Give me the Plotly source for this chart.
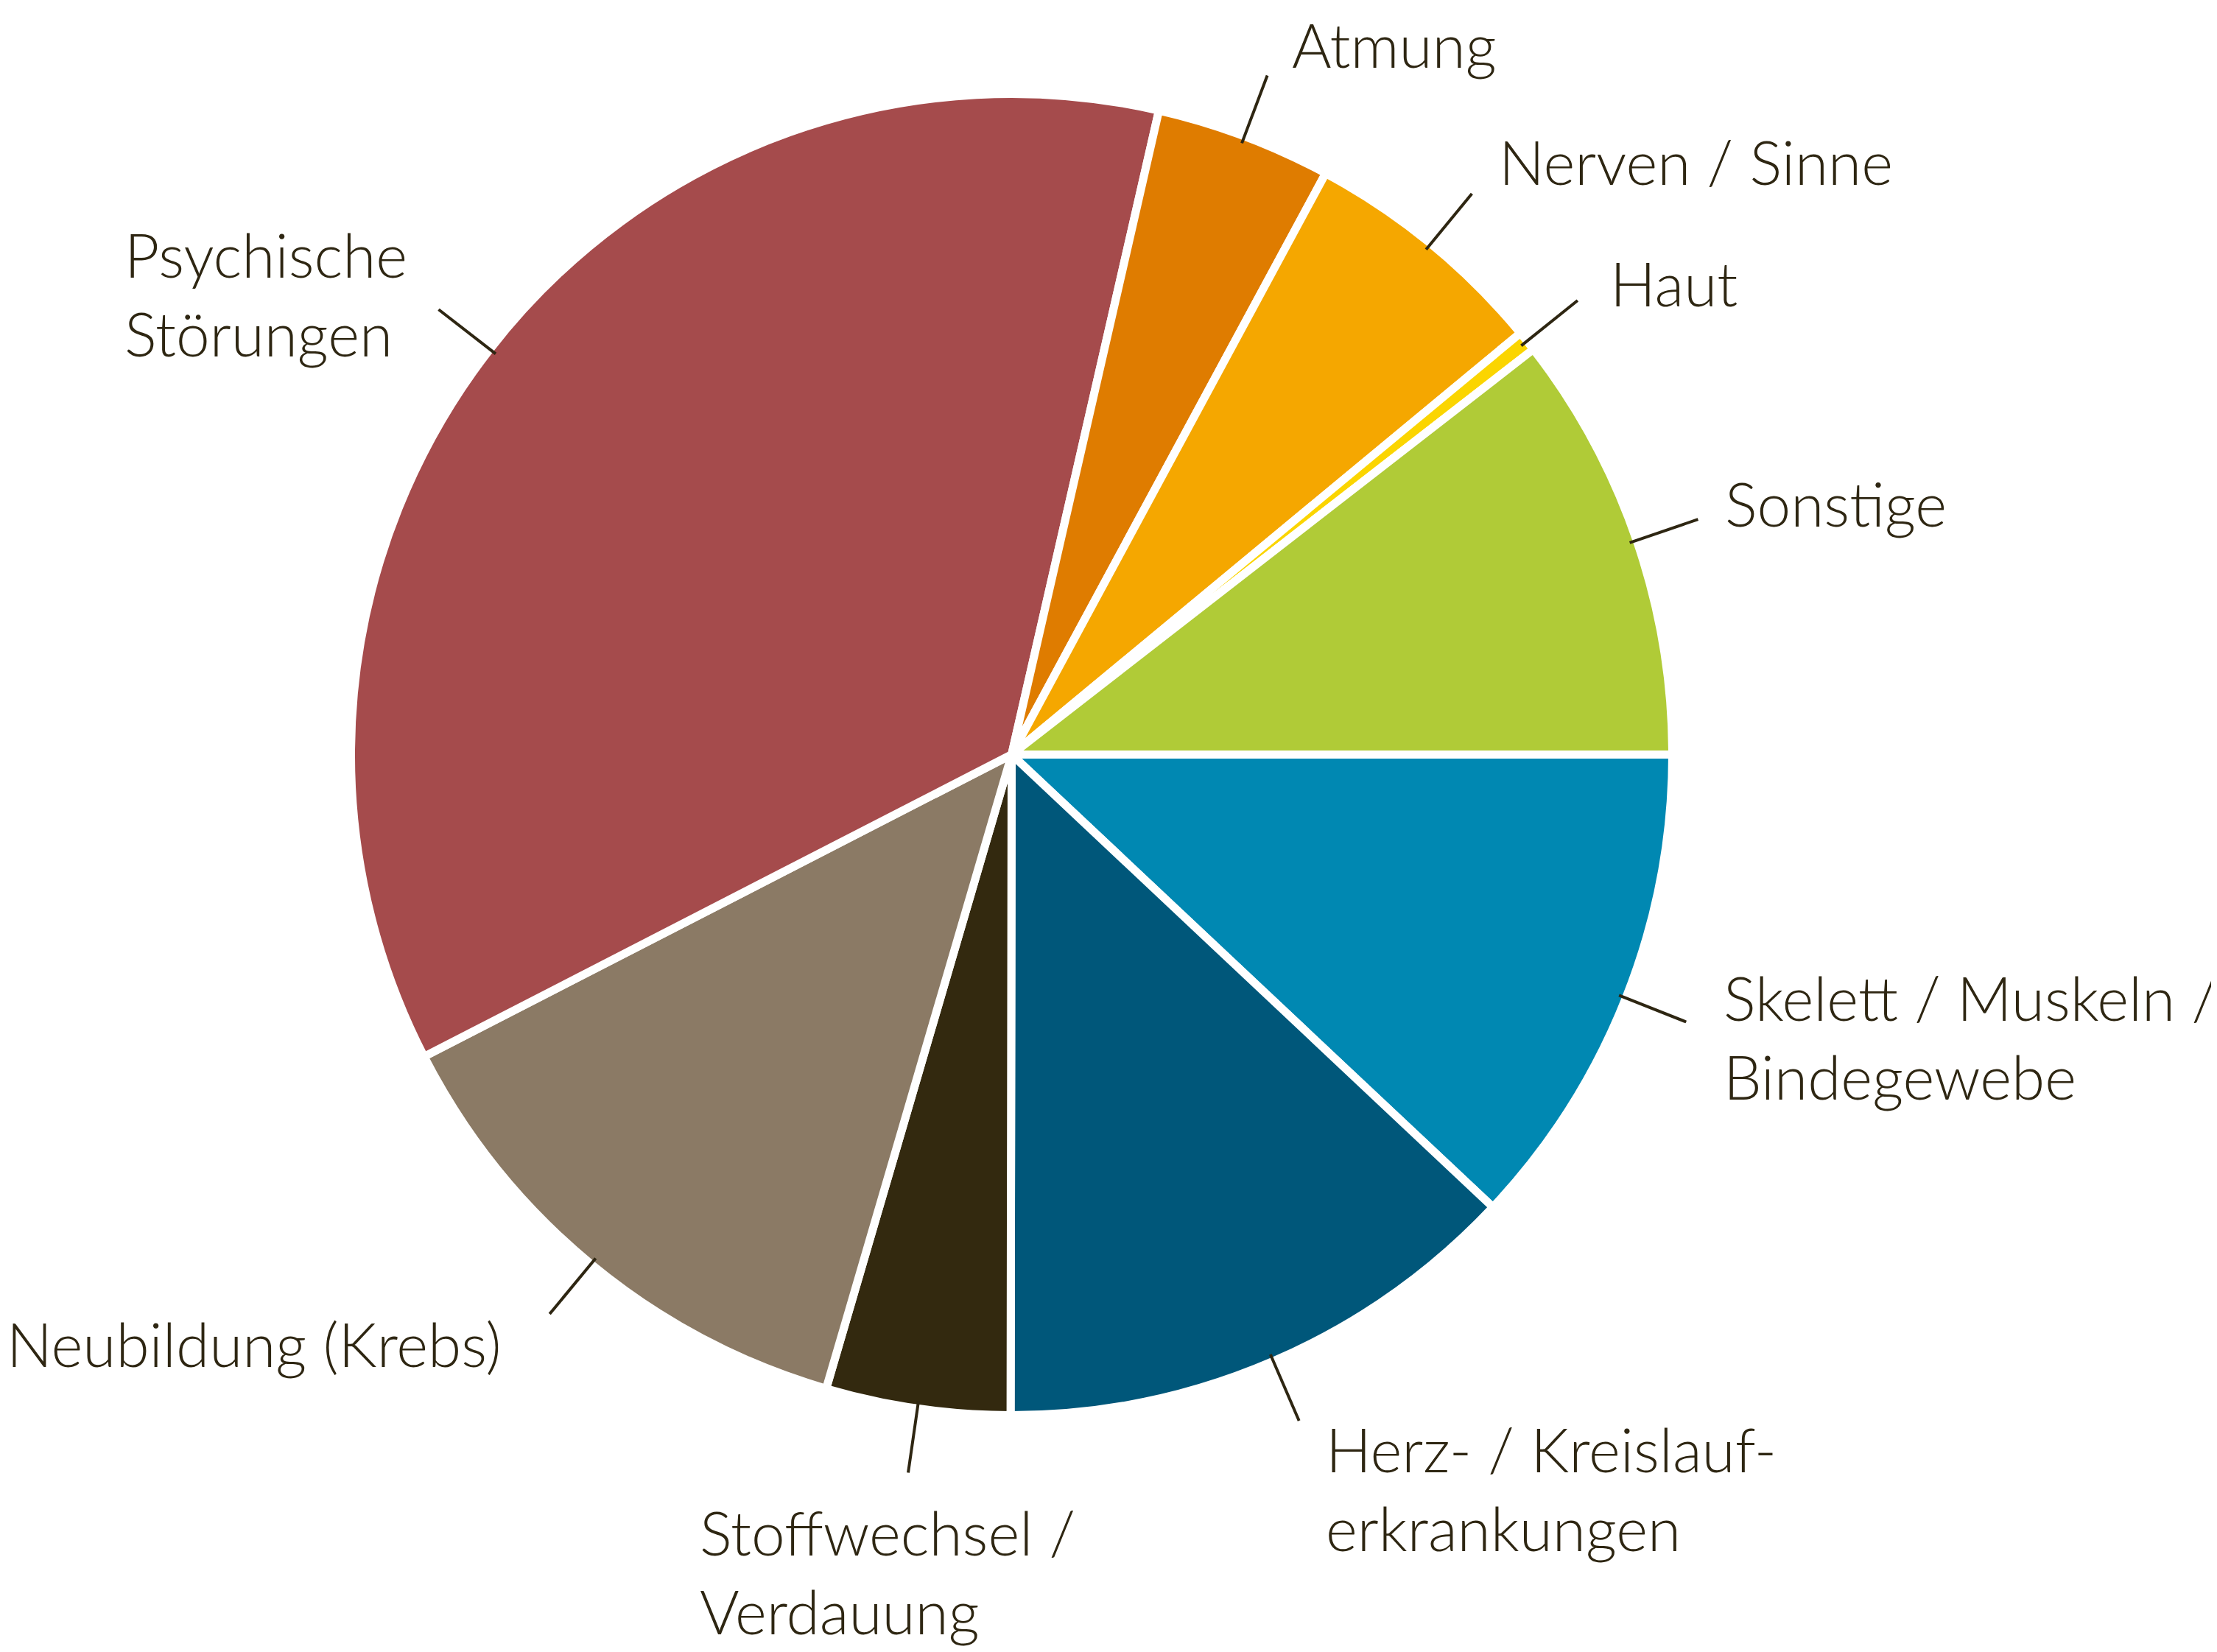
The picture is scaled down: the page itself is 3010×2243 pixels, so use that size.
import math
import plotly.graph_objects as go

# ---- data ----
categories = [
    "Skelett / Muskeln / Bindegewebe",
    "Herz- / Kreislauferkrankungen",
    "Stoffwechsel / Verdauung",
    "Neubildung (Krebs)",
    "Psychische Störungen",
    "Atmung",
    "Nerven / Sinne",
    "Haut",
    "Sonstige",
]
values = [12.0, 13.0, 4.5, 12.9, 36.1, 4.3, 6.1, 0.5, 10.5]
label_texts = [
    "Skelett / Muskeln /<br>Bindegewebe",
    "Herz- / Kreislauf-<br>erkrankungen",
    "Stoffwechsel /<br>Verdauung",
    "Neubildung (Krebs)",
    "Psychische<br>Störungen",
    "Atmung",
    "Nerven / Sinne",
    "Haut",
    "Sonstige",
]

# ---- styling ----
colors = ["#0088B2", "#00577A", "#33290F", "#8B7A65", "#A54B4C",
          "#DF7C00", "#F5A700", "#FBD500", "#B0CB37"]
TEXT_COLOR = "#2E2612"
FONT = "Lato"
W, H = 3010, 2243
PAGE_MARGIN = 8          # default browser body margin shifts the figure
TEXT_DX, TEXT_DY = 5, 4  # annotation padding / glyph bearing
SEP = 11                 # white separator width
CX, CY = 1373.5 - PAGE_MARGIN, 1024.5 - PAGE_MARGIN
R = 891.5                # visible radius
R_DOMAIN = R + SEP / 2   # outer stroke eats half the separator width
# label placement on screen (glyph left edge x, vertical centre y) in pixels
label_pos = {
    "Skelett / Muskeln / Bindegewebe": (2344, 1411),
    "Herz- / Kreislauferkrankungen": (1804, 2024),
    "Stoffwechsel / Verdauung": (954, 2137),
    "Neubildung (Krebs)": (13, 1828),
    "Psychische Störungen": (173, 402),
    "Atmung": (1758, 64),
    "Nerven / Sinne": (2039, 223),
    "Haut": (2190, 388),
    "Sonstige": (2346, 687),
}

fig = go.Figure(go.Pie(
    labels=categories,
    values=values,
    sort=False,
    direction="clockwise",
    rotation=90,
    textinfo="none",
    hoverinfo="label+percent",
    marker=dict(colors=colors, line=dict(color="white", width=SEP)),
    domain=dict(x=[(CX - R_DOMAIN) / W, (CX + R_DOMAIN) / W],
                y=[(H - CY - R_DOMAIN) / H, (H - CY + R_DOMAIN) / H]),
    showlegend=False,
))

total = sum(values)
cum = 0.0
shapes = []
annotations = []
for cat, v, txt in zip(categories, values, label_texts):
    mid = (cum + v / 2) / total * 2 * math.pi
    cum += v
    c, s = math.cos(mid), math.sin(mid)
    x0, y0 = CX + R * 0.995 * c, CY + R * 0.995 * s
    x1, y1 = CX + R * 1.105 * c, CY + R * 1.105 * s
    shapes.append(dict(type="line", xref="paper", yref="paper",
                       x0=x0 / W, y0=1 - y0 / H, x1=x1 / W, y1=1 - y1 / H,
                       line=dict(color=TEXT_COLOR, width=4)))
    lx, ly = label_pos[cat]
    ax = max(lx - PAGE_MARGIN - TEXT_DX, 0)
    ay = ly - PAGE_MARGIN - TEXT_DY
    annotations.append(dict(text=txt, xref="paper", yref="paper",
                            x=ax / W, y=1 - ay / H,
                            xanchor="left", yanchor="middle", align="left",
                            showarrow=False, borderpad=0,
                            font=dict(family=FONT, size=82, color=TEXT_COLOR, weight=300)))

fig.update_layout(
    width=W, height=H,
    margin=dict(l=0, r=0, t=0, b=0),
    paper_bgcolor="white", plot_bgcolor="white",
    shapes=shapes, annotations=annotations,
    font=dict(family=FONT, color=TEXT_COLOR),
)

fig.write_html("out.html")
